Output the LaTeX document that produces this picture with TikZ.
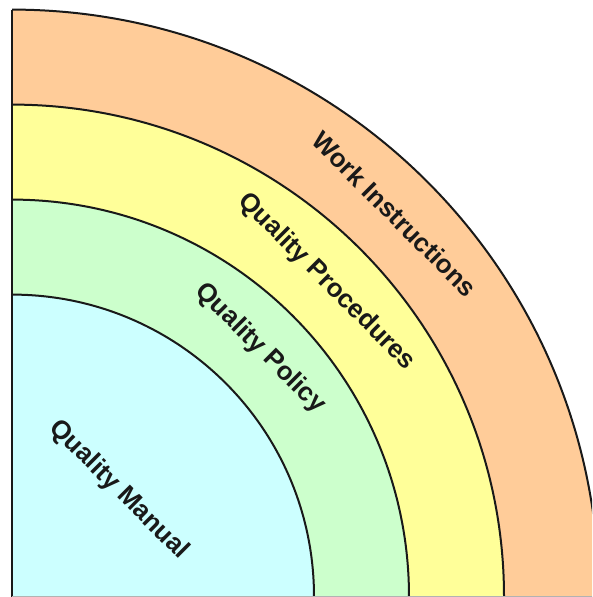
\documentclass[tikz,border=0pt]{standalone}
\usepackage{fontspec}
\setmainfont{Liberation Sans}
\definecolor{ringA}{HTML}{CCFFFF}
\definecolor{ringB}{HTML}{CCFFCC}
\definecolor{ringC}{HTML}{FFFF99}
\definecolor{ringD}{HTML}{FFCC99}
\tikzset{
  ringline/.style={draw=black!90, line width=2pt},
  ringlabel/.style={font=\bfseries\fontsize{26}{30}\selectfont, rotate=-45, inner sep=0pt, text=black!90}
}
\begin{document}
\begin{tikzpicture}[x=1pt,y=1pt]
\useasboundingbox (0,0) rectangle (592,597);
\clip (0,0) rectangle (592,597);
\coordinate (c) at (12,0.4);
\foreach \r/\col in {587/ringD,492/ringC,397/ringB,302/ringA}{
  \fill[\col] (c) -- ++(0,\r) arc[start angle=90, end angle=0, radius=\r] -- cycle;
  \draw[ringline] (c) ++(0,\r) arc[start angle=90, end angle=0, radius=\r];
}
\draw[ringline] (c) -- ++(0,587);
\draw[black!30, line width=0.8pt] (c) -- ++(600,0);
\node[ringlabel] (wi) at ([shift={(45:541)}]c) {Work Instructions};
\node[ringlabel] (qp) at ([shift={(45:445)}]c) {Quality Procedures};
\node[ringlabel] (qy) at ([shift={(45:351)}]c) {Quality Policy};
\node[ringlabel] (qm) at ([shift={(45:151)}]c) {Quality Manual};
\end{tikzpicture}
\end{document}
